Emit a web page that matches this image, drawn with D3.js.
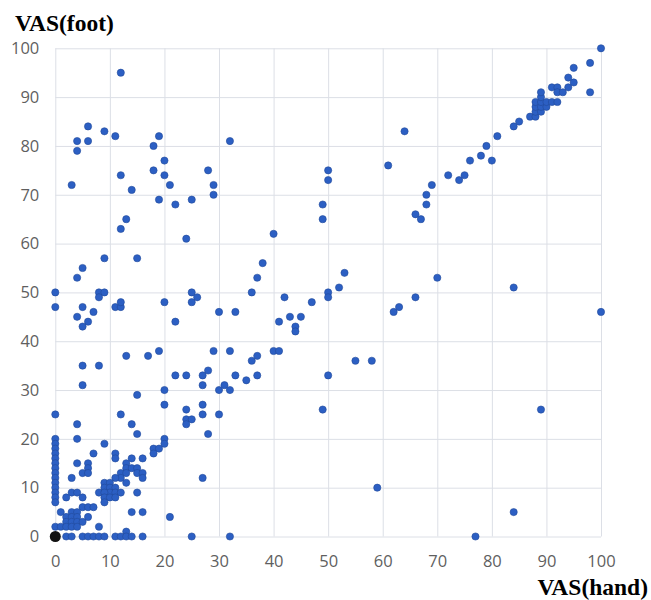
<!DOCTYPE html>
<html>
<head>
<meta charset="utf-8">
<script src="https://cdn.jsdelivr.net/npm/d3@7"></script>
<style>
  body { margin: 0; background: #fff; }
  .tick text { font-family: "Open Sans", sans-serif; font-size: 16.5px; fill: #5f5f5f; }
  .title { font-family: "Liberation Serif", "Times New Roman", serif; font-weight: bold; font-size: 23.5px; fill: #000; }
</style>
</head>
<body>
<div id="chart"></div>
<script>
// VAS(hand) on x, VAS(foot) on y, one entry per patient
const hand = [
  12, 3, 4, 4, 6, 6, 9, 11, 12, 14, 13, 12, 15, 9, 4, 5, 18, 19, 18, 19, 20, 20, 21, 22, 24, 25, 28, 29, 29, 32,
  37, 38, 40, 49, 49, 50, 50, 53, 52, 61, 64, 66, 67, 68, 68, 69, 70, 72, 74, 75, 76, 78, 79, 80, 81, 84, 85, 87, 88, 88,
  89, 88, 89, 90, 88, 89, 90, 91, 92, 89, 89, 91, 92, 92, 93, 94, 95, 94, 95, 98, 98, 100, 84,
  0, 0, 8, 9, 8, 5, 4, 7, 6, 5, 11, 12, 12, 20, 22, 25, 26, 25, 30, 33, 36, 42, 41, 43, 44, 44, 45, 47, 50, 50,
  62, 63, 66, 100,
  13, 17, 19, 5, 8, 5, 15, 20, 20, 22, 24, 27, 28, 29, 32, 27, 30, 31, 32, 33, 35, 36, 37, 37, 40, 41, 50, 49, 55, 58,
  89, 0, 4, 4, 12, 14, 15, 20, 24, 24, 25, 24, 27, 27, 28, 30,
  20, 18, 19, 18, 9, 7, 11, 11, 14, 16, 4, 6, 6, 5, 6, 13, 13, 14, 15, 12, 13, 15, 16, 16, 12, 11, 3, 13, 9, 10,
  9, 10, 11, 10, 11, 12, 8, 9, 15, 3, 4, 5, 2, 9, 10, 11, 9, 5, 6, 7, 1, 3, 4, 2, 3, 4, 6, 14, 16, 21,
  2, 3, 4, 5, 0, 1, 2, 3, 4, 8, 13, 27, 59, 84,
  0, 0, 0, 0, 0, 0, 0, 0, 0, 0, 0, 0, 0, 0,
  2, 3, 5, 6, 7, 8, 9, 11, 12, 13, 14, 16, 25, 32, 77
];
const foot = [
  95, 72, 81, 79, 84, 81, 83, 82, 74, 71, 65, 63, 57, 57, 53, 55, 80, 82, 75, 69, 77, 74, 72, 68, 61, 69, 75, 72, 70, 81,
  53, 56, 62, 68, 65, 75, 73, 54, 51, 76, 83, 66, 65, 68, 70, 72, 53, 74, 73, 74, 77, 78, 80, 77, 82, 84, 85, 86, 86, 87,
  87, 88, 88, 88, 89, 89, 89, 89, 89, 90, 91, 92, 92, 91, 91, 92, 93, 94, 96, 97, 91, 100, 51,
  50, 47, 50, 50, 49, 47, 45, 46, 44, 43, 47, 47, 48, 48, 44, 50, 49, 48, 46, 46, 50, 49, 44, 45, 43, 42, 45, 48, 50, 49,
  46, 47, 49, 46,
  37, 37, 38, 35, 35, 31, 29, 30, 27, 33, 33, 33, 34, 38, 38, 31, 30, 31, 30, 33, 32, 36, 37, 33, 38, 38, 33, 26, 36, 36,
  26, 25, 23, 20, 25, 23, 21, 20, 26, 24, 24, 23, 27, 25, 21, 25,
  19, 18, 18, 17, 19, 17, 17, 16, 16, 16, 15, 15, 14, 13, 13, 15, 14, 14, 14, 13, 13, 13, 13, 12, 12, 12, 12, 11, 11, 11,
  10, 10, 10, 9, 9, 9, 9, 9, 9, 9, 9, 8, 8, 8, 8, 8, 7, 6, 6, 6, 5, 5, 5, 4, 4, 4, 4, 5, 5, 4,
  3, 3, 3, 3, 2, 2, 2, 2, 2, 2, 1, 12, 10, 5,
  20, 19, 18, 17, 16, 15, 14, 13, 12, 11, 10, 9, 8, 7,
  0, 0, 0, 0, 0, 0, 0, 0, 0, 0, 0, 0, 0, 0, 0
];
// the highlighted point at the origin
const origin = [[0, 0]];
const ticks = [0, 10, 20, 30, 40, 50, 60, 70, 80, 90, 100];

const width = 651, height = 600;
const plotLeft = 55.3, plotRight = 601, plotTop = 48.3, plotBottom = 536.5;

const svg = d3.select("#chart")
    .append("svg")
    .attr("width", width)
    .attr("height", height);

const x = d3.scaleLinear().domain([0, 100]).range([plotLeft, plotRight]);
const y = d3.scaleLinear().domain([0, 100]).range([plotBottom, plotTop]);

// gridlines come from the axes' ticks
const yAxis = svg.append("g")
    .attr("transform", `translate(${plotLeft},0)`)
    .call(d3.axisLeft(y).tickValues(ticks).tickSize(-(plotRight - plotLeft)).tickPadding(16));
const xAxis = svg.append("g")
    .attr("transform", `translate(0,${plotBottom})`)
    .call(d3.axisBottom(x).tickValues(ticks).tickSize(-(plotBottom - plotTop)).tickPadding(19));

[xAxis, yAxis].forEach(a => {
    a.select(".domain").remove();
    a.selectAll(".tick line").attr("stroke", "#dcdfe6").attr("stroke-width", 1);
});

const points = hand.map((h, i) => [h, foot[i]]);

svg.append("g")
    .selectAll("circle")
    .data(points)
    .join("circle")
    .attr("cx", d => x(d[0]))
    .attr("cy", d => y(d[1]))
    .attr("r", 3.6)
    .attr("fill", "#2c5fc3")
    .attr("stroke", "#21499a")
    .attr("stroke-width", 0.6);

svg.append("g")
    .selectAll("circle")
    .data(origin)
    .join("circle")
    .attr("cx", d => x(d[0]))
    .attr("cy", d => y(d[1]))
    .attr("r", 5.5)
    .attr("fill", "#111");

svg.append("text")
    .attr("class", "title")
    .attr("x", 15)
    .attr("y", 31)
    .text("VAS(foot)");

svg.append("text")
    .attr("class", "title")
    .attr("x", 648)
    .attr("y", 595)
    .attr("text-anchor", "end")
    .text("VAS(hand)");
</script>
</body>
</html>
